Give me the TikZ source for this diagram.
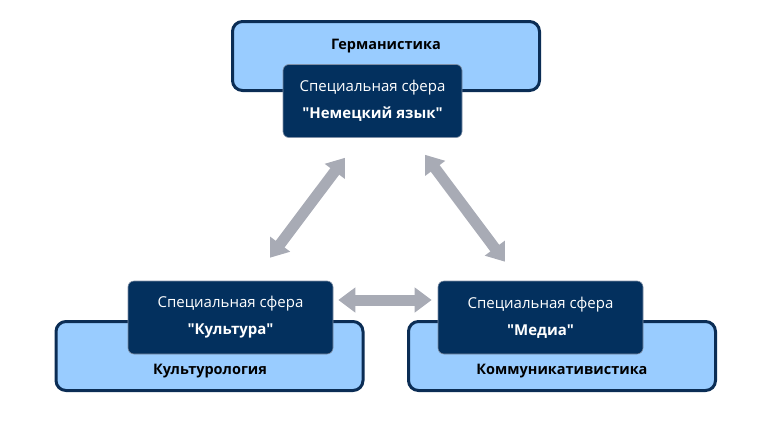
\documentclass[tikz,border=0pt]{standalone}
\usepackage{fontspec}
\setmainfont{Open Sans}[Ligatures=TeXOff]
\usepackage{tikz}
\usetikzlibrary{arrows.meta,positioning,calc}
\definecolor{fieldblue}{HTML}{99CCFF}
\definecolor{navyline}{HTML}{0B2D55}
\definecolor{navyfill}{HTML}{03305E}
\definecolor{innerline}{HTML}{7F8FA6}
\definecolor{linkgray}{HTML}{A8ABB5}
\newcommand{\qname}[1]{\textbf{"#1"}}
\tikzset{
  field/.style={draw=navyline,line width=3pt,fill=fieldblue,rounded corners=10pt,
    minimum width=307pt,minimum height=69pt,inner sep=0pt},
  sphere/.style={draw=innerline,line width=0.6pt,fill=navyfill,rounded corners=6pt,
    text=white,align=center,minimum width=205pt,minimum height=73pt,inner sep=0pt,
    font=\fontsize{15pt}{27pt}\selectfont},
  fieldname/.style={font=\fontsize{14.5pt}{16pt}\selectfont\bfseries},
  link/.style={draw=linkgray,line width=11pt,
    {Triangle[width=24pt,length=17pt]}-{Triangle[width=24pt,length=17pt]}}
}

\begin{document}
\begin{tikzpicture}[x=1pt,y=-1pt]
  \useasboundingbox (0,0) rectangle (765,434);

  % disciplines
  \node[field] (germ) at (386,56) {};
  \node[field] (kult) at (209.5,356) {};
  \node[field] (komm) at (562,356) {};
  \node[fieldname] (germname) at (386,46) {Германистика};
  \node[fieldname] (kultname) at (210,371) {Культурология};
  \node[fieldname] (kommname) at (562,371) {Коммуникативистика};

  % special spheres
  \node[sphere,minimum width=179pt] (lang) at (372.5,101)
    {Специальная сфера\\\qname{Немецкий язык}};
  \node[sphere] (cult) at (230.5,317.5)
    {Специальная сфера\\\qname{Культура}};
  \node[sphere] (media) at (540.5,317.5)
    {Специальная сфера\\\qname{Медиа}};

  % links between the spheres
  \draw[link,shorten <=28.7pt,shorten >=25pt]
    ([xshift=22.2pt]cult.north) -- ([xshift=-12.5pt]lang.south);
  \draw[link,shorten <=21.2pt,shorten >=23.7pt]
    ([xshift=39.8pt]lang.south) -- ([xshift=-21.3pt]media.north);
  \draw[link,shorten <=5pt,shorten >=6pt]
    ([yshift=17.5pt]cult.east) -- ([yshift=17.5pt]media.west);
\end{tikzpicture}
\end{document}
